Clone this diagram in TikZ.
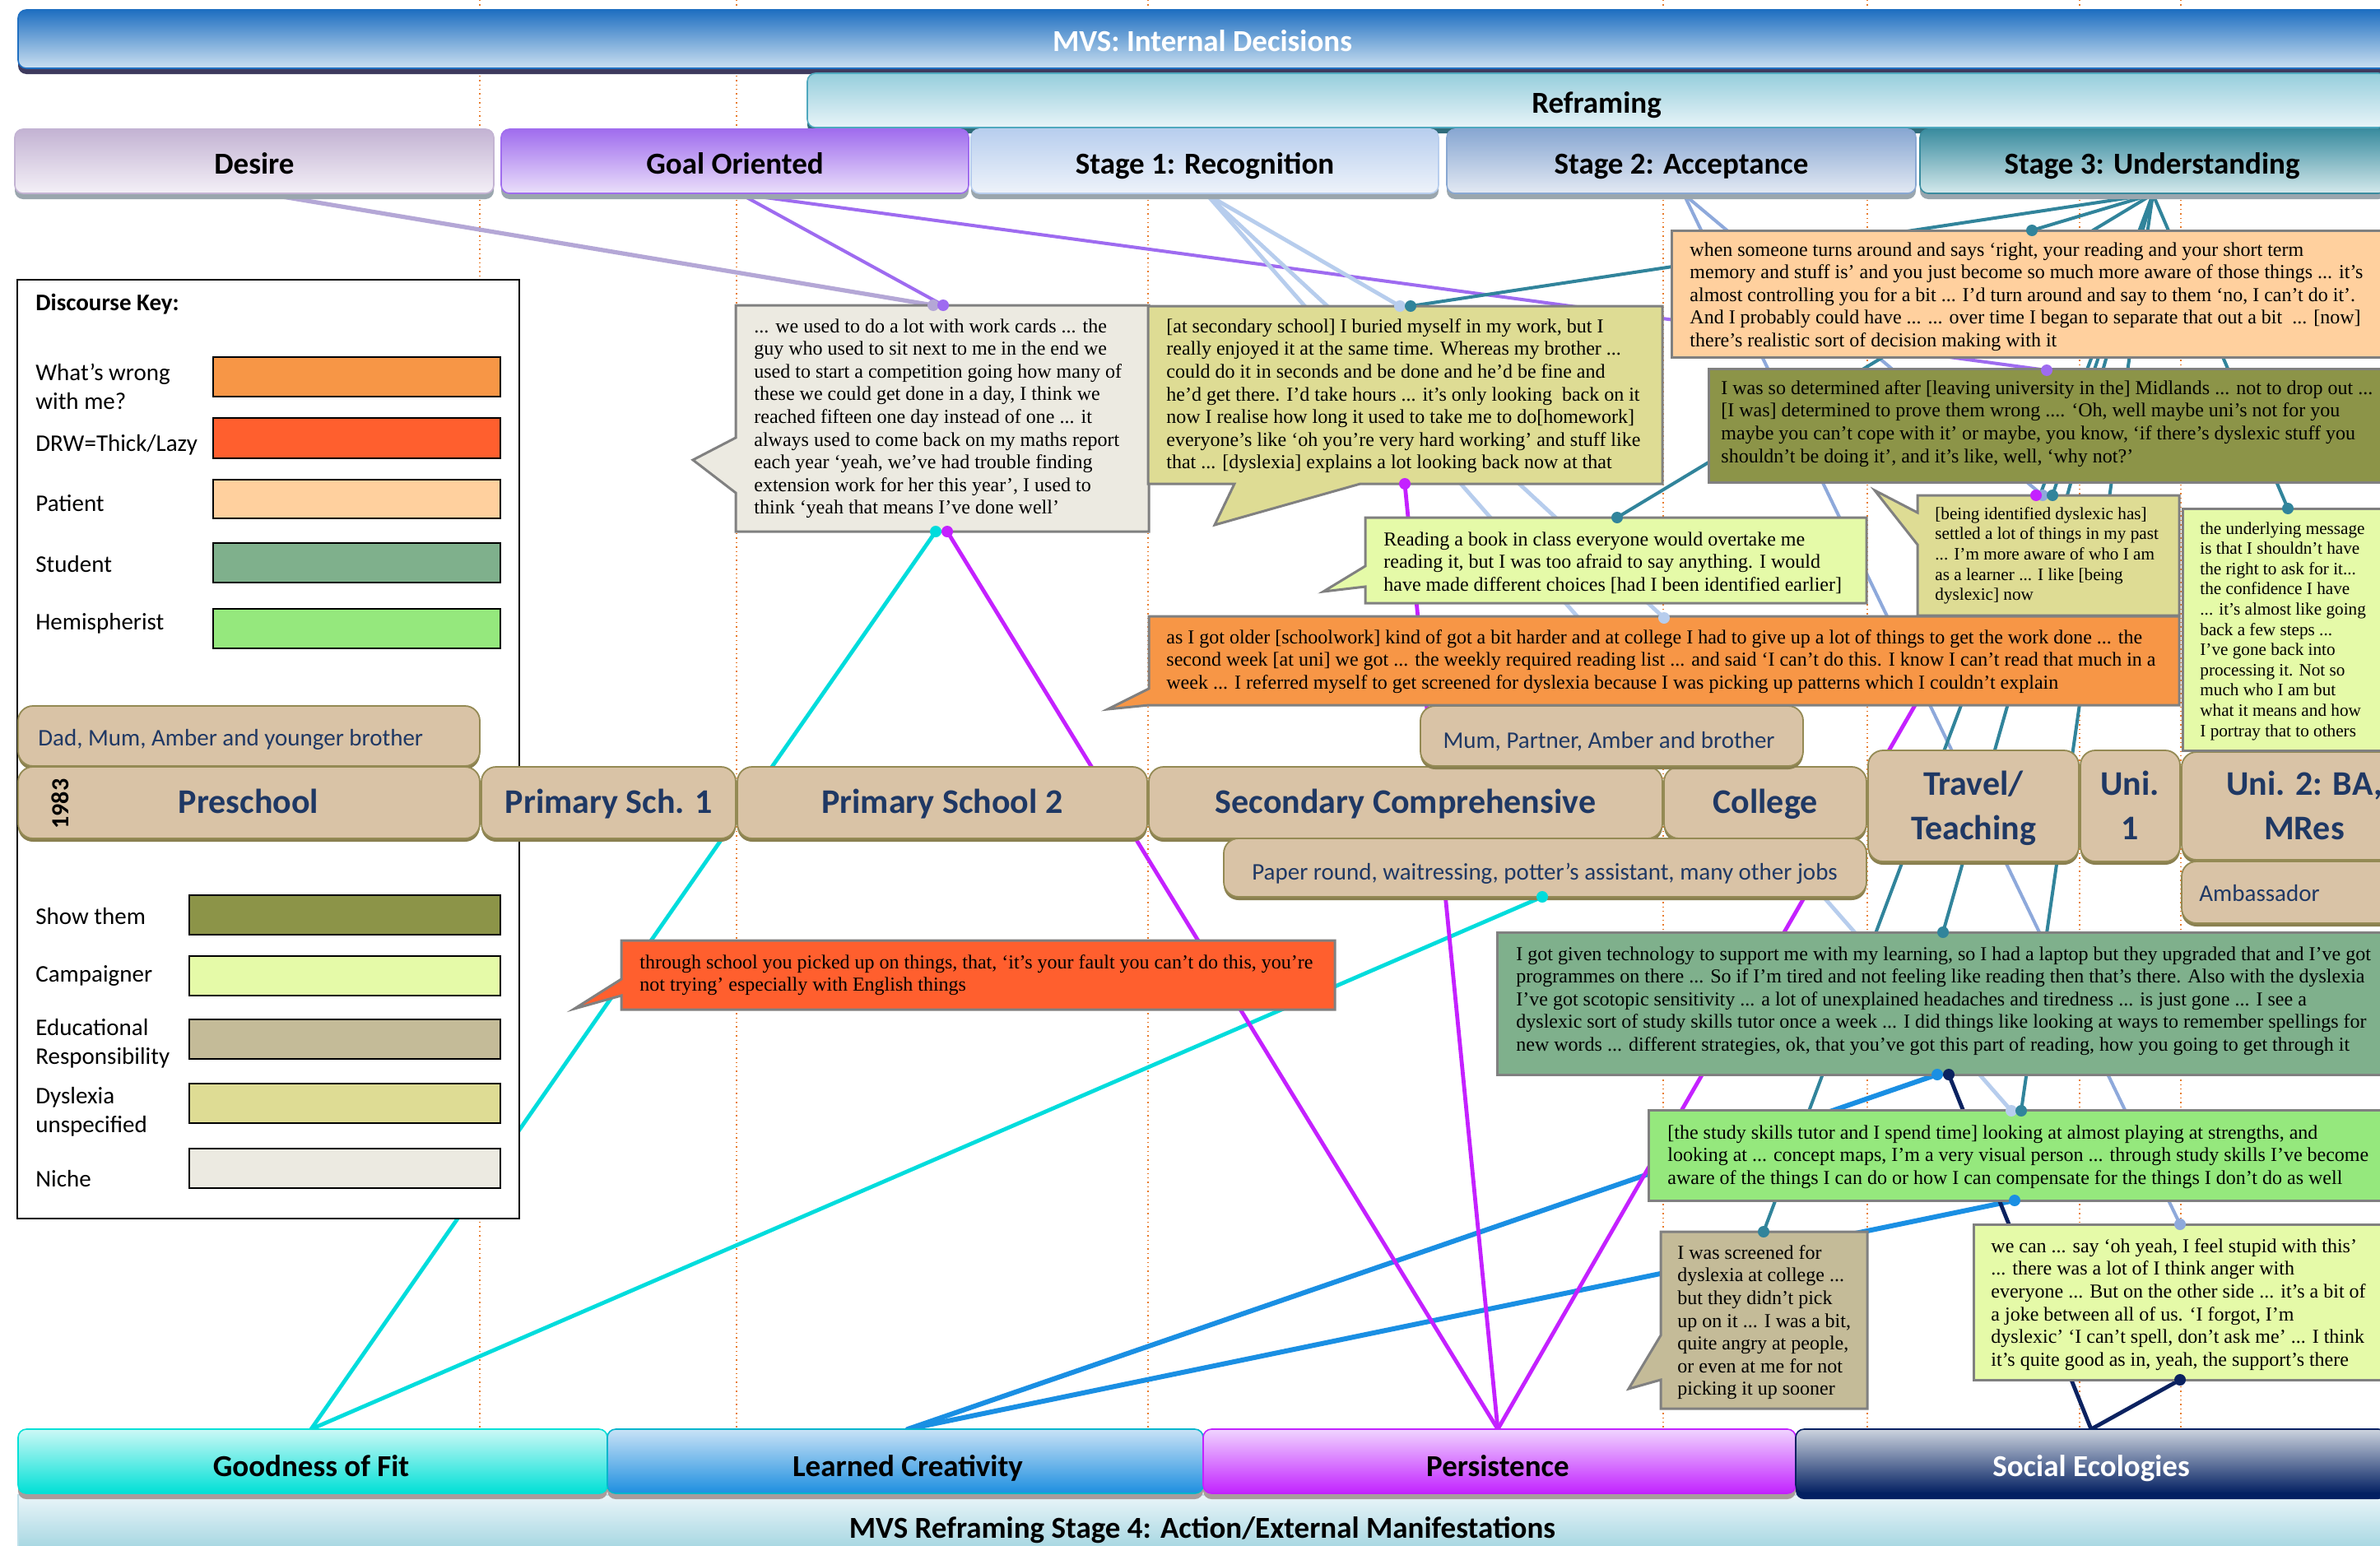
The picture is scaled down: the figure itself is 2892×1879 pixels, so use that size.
\documentclass[tikz,border=0pt]{standalone}
\usepackage{fontspec}
\setmainfont{Liberation Serif}
\newfontfamily\sansf{Carlito}
\usetikzlibrary{fit}

% connector colours
\definecolor{lnDesire}{HTML}{B4A7D6}
\definecolor{lnGoal}{HTML}{9E6BF0}
\definecolor{lnStageA}{HTML}{B7CDED}
\definecolor{lnStageB}{HTML}{8EA9DB}
\definecolor{lnStageC}{HTML}{31849B}
\definecolor{lnFit}{HTML}{00DCDC}
\definecolor{lnCreat}{HTML}{1A8FE3}
\definecolor{lnPers}{HTML}{C421FF}
\definecolor{lnSoc}{HTML}{0B2260}
% discourse key colours
\definecolor{kWrong}{HTML}{F79646}
\definecolor{kDRW}{HTML}{FF5F2E}
\definecolor{kPatient}{HTML}{FFD09E}
\definecolor{kStudent}{HTML}{7FB08C}
\definecolor{kHemi}{HTML}{95E87D}
\definecolor{kShow}{HTML}{8C9448}
\definecolor{kCamp}{HTML}{E5FAA8}
\definecolor{kEdu}{HTML}{C4BB98}
\definecolor{kDys}{HTML}{DEDC94}
\definecolor{kNiche}{HTML}{ECEAE1}
% timeline colours
\definecolor{tlFill}{HTML}{D9C3A6}
\definecolor{tlEdge}{HTML}{948A54}
\definecolor{tlShade}{HTML}{8A8050}
\definecolor{tlText}{HTML}{1F3864}
\definecolor{qEdge}{HTML}{808080}
\definecolor{guide}{HTML}{E87A2A}
% band colours
\definecolor{mvsTop}{HTML}{1F6FC1}
\definecolor{mvsBot}{HTML}{CADFF0}
\definecolor{mvsShd}{HTML}{3E3A5E}
\definecolor{refTop}{HTML}{96CEDC}
\definecolor{refBot}{HTML}{E8F4F8}
\definecolor{refEdge}{HTML}{4FA8BE}
\definecolor{refShd}{HTML}{2F6B7A}
\definecolor{desTop}{HTML}{C3B3D3}
\definecolor{desBot}{HTML}{F4F0F7}
\definecolor{goaTop}{HTML}{A06DEE}
\definecolor{goaBot}{HTML}{EADFFA}
\definecolor{saTop}{HTML}{B8CEEE}
\definecolor{saBot}{HTML}{EEF3FA}
\definecolor{sbTop}{HTML}{88A7D2}
\definecolor{sbBot}{HTML}{E3E9F3}
\definecolor{scTop}{HTML}{3A8C9F}
\definecolor{scBot}{HTML}{D4E9EC}
\definecolor{hdrShd}{HTML}{9AA6AE}
\definecolor{fitTop}{HTML}{CCF8F6}
\definecolor{fitBot}{HTML}{00E0D6}
\definecolor{crTop}{HTML}{C8E2F6}
\definecolor{crBot}{HTML}{1E8FE0}
\definecolor{crEdge}{HTML}{00B4CC}
\definecolor{peTop}{HTML}{F0D4FF}
\definecolor{peBot}{HTML}{C223FF}
\definecolor{soTop}{HTML}{CCD3DE}
\definecolor{soBot}{HTML}{032062}
\definecolor{ftShd}{HTML}{A89C9C}
\definecolor{bandTop}{HTML}{EAF5F9}
\definecolor{bandBot}{HTML}{93CEDB}
\definecolor{bandEdge}{HTML}{BFE0EA}

\tikzset{
  guideline/.style={guide, line width=0.7pt, dotted},
  conn/.style={line width=2.2pt, line cap=round},
  hdr/.style={rectangle, rounded corners=5pt, inner sep=0pt, line width=0.8pt},
  hdrlab/.style={anchor=base, inner sep=0pt, font=\sansf\bfseries\fontsize{18.5}{20}\selectfont},
  tl/.style={rectangle, rounded corners=9pt, inner sep=0pt, fill=tlFill, draw=tlEdge, line width=0.9pt},
  tllab/.style={anchor=base, inner sep=0pt, font=\sansf\bfseries\fontsize{21}{27.5}\selectfont, text=tlText},
  tlsub/.style={anchor=base, inner sep=0pt, font=\sansf\fontsize{14.5}{17}\selectfont, text=tlText},
  qbox/.style={draw=qEdge, line width=1.5pt, line join=miter},
  qtext/.style={anchor=north west, inner sep=0pt, align=left, font=\fontsize{12}{13.8}\selectfont},
  qsmall/.style={qtext, font=\fontsize{10.6}{12.3}\selectfont},
  keylab/.style={anchor=west, inner sep=0pt, align=left, font=\sansf\fontsize{14.5}{17.5}\selectfont},
  swatch/.style={rectangle, draw=black, line width=1pt, inner sep=0pt},
}

% header / footer band: options, name, x1, y1, x2, y2, shadow colour
\newcommand{\hdrbox}[7]{%
  \fill[#7, rounded corners=5pt] (#3,#4+7) rectangle (#5,#6+7);
  \node[hdr, #1, fit={(#3,#4) (#5,#6)}] (#2) {};}
% timeline block: name, x1, y1, x2, y2
\newcommand{\tlbox}[5]{%
  \fill[tlShade, rounded corners=9pt] (#2,#3+4) rectangle (#4,#5+4);
  \node[tl, fit={(#2,#3) (#4,#5)}] (#1) {};}

\begin{document}
\begin{tikzpicture}[x=0.5pt,y=-0.5pt]
\useasboundingbox (0,0) rectangle (2892,1879);
\clip (0,0) rectangle (2892,1879);
\fill[white] (0,0) rectangle (2892,1879);

% period guides
\foreach \gx in {583,895,1395,2021,2269,2527,2650}
  \draw[guideline] (\gx,0) -- (\gx,1879);

% connector origins
\coordinate (oDesire) at (325,236);
\coordinate (oGoal) at (900,236);
\coordinate (oStA) at (1466,236);
\coordinate (oStB) at (2046,236);
\coordinate (oStC) at (2616,236);
\coordinate (oFit) at (378,1737);
\coordinate (oCreat) at (1103,1737);
\coordinate (oPers) at (1820,1737);
\coordinate (oSoc) at (2541,1737);
% connector ends on the quotations
\coordinate (eNicheA) at (1134,371);
\coordinate (eNicheB) at (1146,371);
\coordinate (eNicheC) at (1137,646);
\coordinate (eNicheD) at (1151,646);
\coordinate (eShow) at (2487,450);
\coordinate (eSecA) at (1701,372);
\coordinate (eSecB) at (1714,372);
\coordinate (eSecC) at (1707,588);
\coordinate (eWrong) at (2022,751);
\coordinate (eStudyA) at (2444,1350);
\coordinate (eStudyB) at (2456,1350);
\coordinate (eStudyC) at (2448,1459);
\coordinate (eSettA) at (2482,602);
\coordinate (eSettB) at (2494,602);
\coordinate (eSettC) at (2474,602);
\coordinate (eSupA) at (2649,1488);
\coordinate (eSupB) at (2649,1677);
\coordinate (ePat) at (2469,280);
\coordinate (eRead) at (1965,629);
\coordinate (eUnder) at (2780,618);
\coordinate (eTechA) at (2361,1133);
\coordinate (eTechB) at (2354,1306);
\coordinate (eTechC) at (2368,1306);
\coordinate (eScreen) at (2143,1497);
\coordinate (eJobs) at (1874,1090);

% connectors
\draw[conn, lnDesire, line width=2.6pt] (oDesire) -- (eNicheA);
\draw[conn, lnGoal, line width=2pt] (oGoal) -- (eNicheB);
\draw[conn, lnGoal, line width=2pt] (oGoal) -- (eShow);
\foreach \e in {eSecA,eWrong,eStudyA} \draw[conn, lnStageA, line width=2.4pt] (oStA) -- (\e);
\foreach \e in {eSettA,eSupA} \draw[conn, lnStageB, line width=2pt] (oStB) -- (\e);
\foreach \e in {eSecB,ePat,eRead,eSettB,eUnder,eTechA,eStudyB,eScreen}
  \draw[conn, lnStageC, line width=2pt] (oStC) -- (\e);
\foreach \e in {eNicheC,eJobs} \draw[conn, lnFit, line width=2.4pt] (oFit) -- (\e);
\foreach \e in {eTechB,eStudyC} \draw[conn, lnCreat, line width=3pt] (oCreat) -- (\e);
\foreach \e in {eNicheD,eSecC,eSettC} \draw[conn, lnPers, line width=2.4pt] (oPers) -- (\e);
\foreach \e in {eTechC,eSupB} \draw[conn, lnSoc, line width=2.4pt] (oSoc) -- (\e);

% discourse key
\node[rectangle, draw=black, line width=1pt, fill=white, inner sep=0pt, fit={(21,340) (631,1481)}] (key) {};
\node[keylab] (kTitle) at (43,370) {\bfseries Discourse Key:};
\node[keylab] (kWrongL) at (43,470) {What’s wrong\\with me?};
\node[keylab] (kDRWL) at (43,541) {DRW=Thick/Lazy};
\node[keylab] (kPatientL) at (43,612) {Patient};
\node[keylab] (kStudentL) at (43,686) {Student};
\node[keylab] (kHemiL) at (43,758) {Hemispherist};
\node[keylab] (kShowL) at (43,1114) {Show them};
\node[keylab] (kCampL) at (43,1186) {Campaigner};
\node[keylab] (kEduL) at (43,1268) {Educational\\Responsibility};
\node[keylab] (kDysL) at (43,1351) {Dyslexia\\unspecified};
\node[keylab] (kNicheL) at (43,1433) {Niche};
\node[swatch, fill=kWrong, fit={(259,434) (608,482)}] (sWrong) {};
\node[swatch, fill=kDRW, fit={(259,508) (608,557)}] (sDRW) {};
\node[swatch, fill=kPatient, fit={(259,583) (608,630)}] (sPatient) {};
\node[swatch, fill=kStudent, fit={(259,660) (608,708)}] (sStudent) {};
\node[swatch, fill=kHemi, fit={(259,740) (608,788)}] (sHemi) {};
\node[swatch, fill=kShow, fit={(230,1088) (608,1136)}] (sShow) {};
\node[swatch, fill=kCamp, fit={(230,1162) (608,1210)}] (sCamp) {};
\node[swatch, fill=kEdu, fit={(230,1239) (608,1287)}] (sEdu) {};
\node[swatch, fill=kDys, fit={(230,1317) (608,1365)}] (sDys) {};
\node[swatch, fill=kNiche, fit={(230,1396) (608,1444)}] (sNiche) {};

% internal decision bands
\hdrbox{top color=mvsTop, bottom color=mvsBot, draw=mvsTop}{mvs}{22}{12}{2910}{83}{mvsShd}
\hdrbox{top color=refTop, bottom color=refBot, draw=refEdge}{refr}{981}{89}{2900}{155}{refShd}
\hdrbox{top color=desTop, bottom color=desBot, draw=desTop}{desire}{18}{157}{600}{235}{hdrShd}
\hdrbox{top color=goaTop, bottom color=goaBot, draw=goaTop}{goal}{609}{157}{1177}{235}{hdrShd}
\hdrbox{top color=saTop, bottom color=saBot, draw=saTop}{stA}{1180}{157}{1748}{235}{hdrShd}
\hdrbox{top color=sbTop, bottom color=sbBot, draw=sbTop}{stB}{1758}{157}{2328}{235}{hdrShd}
\hdrbox{top color=scTop, bottom color=scBot, draw=scTop}{stC}{2333}{157}{2900}{235}{hdrShd}
\node[hdrlab, text=white] (mvsL) at (1461,62) {MVS: Internal Decisions};
\node[hdrlab] (refrL) at (1940,137) {Reframing};
\node[hdrlab] (desireL) at (309,211) {Desire};
\node[hdrlab] (goalL) at (893,211) {Goal Oriented};
\node[hdrlab] (stAL) at (1464,211) {Stage 1: Recognition};
\node[hdrlab] (stBL) at (2043,211) {Stage 2: Acceptance};
\node[hdrlab] (stCL) at (2615,211) {Stage 3: Understanding};

% external manifestation bands
\node[hdr, top color=bandTop, bottom color=bandBot, draw=bandEdge, rounded corners=0pt, fit={(22,1817) (2900,1900)}] (band) {};
\hdrbox{top color=fitTop, bottom color=fitBot, draw=fitBot}{fit}{22}{1737}{738}{1815}{ftShd}
\hdrbox{top color=crTop, bottom color=crBot, draw=crEdge}{creat}{738}{1737}{1462}{1815}{ftShd}
\hdrbox{top color=peTop, bottom color=peBot, draw=peBot}{pers}{1462}{1737}{2182}{1815}{ftShd}
\hdrbox{top color=soTop, bottom color=soBot, draw=soBot}{soc}{2182}{1737}{2900}{1815}{soBot}
\node[hdrlab] (bandL) at (1461,1869) {MVS Reframing Stage 4: Action/External Manifestations};
\node[hdrlab] (fitL) at (378,1794) {Goodness of Fit};
\node[hdrlab] (creatL) at (1103,1794) {Learned Creativity};
\node[hdrlab] (persL) at (1820,1794) {Persistence};
\node[hdrlab, text=white] (socL) at (2541,1794) {Social Ecologies};

% timeline
\tlbox{famA}{22}{858}{583}{931}
\tlbox{pre}{22}{932}{583}{1019}
\tlbox{prA}{585}{932}{894}{1019}
\tlbox{prB}{896}{932}{1394}{1019}
\tlbox{sec}{1396}{932}{2020}{1019}
\tlbox{col}{2022}{932}{2268}{1019}
\tlbox{trav}{2270}{912}{2526}{1047}
\tlbox{uniA}{2528}{912}{2649}{1047}
\tlbox{uniB}{2651}{914}{2950}{1045}
\tlbox{famB}{1726}{858}{2191}{931}
\tlbox{jobs}{1487}{1019}{2268}{1090}
\tlbox{amb}{2651}{1047}{2950}{1122}
\node[tlsub, anchor=base west] (famAL) at (46,906) {Dad, Mum, Amber and younger brother};
\node[font=\sansf\bfseries\fontsize{15}{15}\selectfont, rotate=90, inner sep=0pt] (yr) at (73,977) {1983};
\node[tllab] (preL) at (302,988) {Preschool};
\node[tllab] (prAL) at (740,988) {Primary Sch. 1};
\node[tllab] (prBL) at (1145,988) {Primary School 2};
\node[tllab] (secL) at (1708,988) {Secondary Comprehensive};
\node[tllab] (colL) at (2145,988) {College};
\node[tllab] (travL) at (2398,966) {Travel/};
\node[tllab] (travM) at (2398,1020) {Teaching};
\node[tllab] (uniAL) at (2588,966) {Uni.};
\node[tllab] (uniAM) at (2588,1020) {1};
\node[tllab] (uniBL) at (2800,966) {Uni. 2: BA,};
\node[tllab] (uniBM) at (2800,1020) {MRes};
\node[tlsub] (famBL) at (1955,909) {Mum, Partner, Amber and brother};
\node[tlsub] (jobsL) at (1877,1069) {Paper round, waitressing, potter’s assistant, many other jobs};
\node[tlsub, anchor=base west] (ambL) at (2672,1095) {Ambassador};

% quotations
\draw[qbox, fill=kNiche] (894,371) -- (1396,371) -- (1396,646) -- (894,646) -- (894,599) -- (842,559) -- (894,532) -- cycle;
\node[qtext] (qNiche) at (916,387) {... we used to do a lot with work cards ... the\\guy who used to sit next to me in the end we\\used to start a competition going how many of\\these we could get done in a day, I think we\\reached fifteen one day instead of one ... it\\always used to come back on my maths report\\each year ‘yeah, we’ve had trouble finding\\extension work for her this year’, I used to\\think ‘yeah that means I’ve done well’};

\draw[qbox, fill=kDys] (1395,372) -- (2020,372) -- (2020,588) -- (1653,588) -- (1476,638) -- (1500,588) -- (1395,588) -- cycle;
\node[qtext] (qSec) at (1417,387) {{[}at secondary school] I buried myself in my work, but I\\really enjoyed it at the same time. Whereas my brother ...\\could do it in seconds and be done and he’d be fine and\\he’d get there. I’d take hours ... it’s only looking\ \ back on it\\now I realise how long it used to take me to do[homework]\\everyone’s like ‘oh you’re very hard working’ and stuff like\\that ... [dyslexia] explains a lot looking back now at that};

\draw[qbox, fill=kPatient] (2031,280) rectangle (2910,434);
\node[qtext] (qPat) at (2053,294) {when someone turns around and says ‘right, your reading and your short term\\memory and stuff is’ and you just become so much more aware of those things ... it’s\\almost controlling you for a bit ... I’d turn around and say to them ‘no, I can’t do it’.\\And I probably could have ... ... over time I began to separate that out a bit\ \ ... [now]\\there’s realistic sort of decision making with it};

\draw[qbox, fill=kShow] (2076,448) rectangle (2910,586);
\node[qtext] (qShow) at (2091,462) {I was so determined after [leaving university in the] Midlands ... not to drop out ...\\{[}I was] determined to prove them wrong .... ‘Oh, well maybe uni’s not for you\\maybe you can’t cope with it’ or maybe, you know, ‘if there’s dyslexic stuff you\\shouldn’t be doing it’, and it’s like, well, ‘why not?’};

\draw[qbox, fill=kDys] (2330,602) -- (2648,602) -- (2648,748) -- (2330,748) -- (2330,662) -- (2278,596) -- (2330,623) -- cycle;
\node[qsmall] (qSett) at (2351,616) {{[}being identified dyslexic has]\\settled a lot of things in my past\\... I’m more aware of who I am\\as a learner ... I like [being\\dyslexic] now};

\draw[qbox, fill=kCamp] (2652,618) rectangle (2910,912);
\node[qsmall] (qUnder) at (2673,634) {the underlying message\\is that I shouldn’t have\\the right to ask for it...\\the confidence I have\\... it’s almost like going\\back a few steps ...\\I’ve gone back into\\processing it. Not so\\much who I am but\\what it means and how\\I portray that to others};

\draw[qbox, fill=kCamp] (1659,629) -- (2268,629) -- (2268,733) -- (1659,733) -- (1659,713) -- (1608,719) -- (1659,688) -- cycle;
\node[qtext] (qRead) at (1681,646) {Reading a book in class everyone would overtake me\\reading it, but I was too afraid to say anything. I would\\have made different choices [had I been identified earlier]};

\draw[qbox, fill=kWrong] (1396,749) -- (2648,749) -- (2648,857) -- (1396,857) -- (1346,862) -- (1396,837) -- cycle;
\node[qtext] (qWrong) at (1417,765) {as I got older [schoolwork] kind of got a bit harder and at college I had to give up a lot of things to get the work done ... the\\second week [at uni] we got ... the weekly required reading list ... and said ‘I can’t do this. I know I can’t read that much in a\\week ... I referred myself to get screened for dyslexia because I was picking up patterns which I couldn’t explain};

\draw[qbox, fill=kDRW] (755,1143) -- (1622,1143) -- (1622,1227) -- (755,1227) -- (755,1210) -- (698,1226) -- (755,1190) -- cycle;
\node[qtext] (qDRW) at (777,1160) {through school you picked up on things, that, ‘it’s your fault you can’t do this, you’re\\not trying’ especially with English things};

\draw[qbox, fill=kStudent] (1819,1133) rectangle (2910,1306);
\node[qtext] (qTech) at (1842,1150) {I got given technology to support me with my learning, so I had a laptop but they upgraded that and I’ve got\\programmes on there ... So if I’m tired and not feeling like reading then that’s there. Also with the dyslexia\\I’ve got scotopic sensitivity ... a lot of unexplained headaches and tiredness ... is just gone ... I see a\\dyslexic sort of study skills tutor once a week ... I did things like looking at ways to remember spellings for\\new words ... different strategies, ok, that you’ve got this part of reading, how you going to get through it};

\draw[qbox, fill=kHemi] (2003,1349) rectangle (2910,1459);
\node[qtext] (qStudy) at (2026,1367) {{[}the study skills tutor and I spend time] looking at almost playing at strengths, and\\looking at ... concept maps, I’m a very visual person ... through study skills I’ve become\\aware of the things I can do or how I can compensate for the things I don’t do as well};

\draw[qbox, fill=kEdu] (2018,1497) -- (2269,1497) -- (2269,1712) -- (2018,1712) -- (2018,1677) -- (1979,1688) -- (2018,1623) -- cycle;
\node[qtext] (qScreen) at (2038,1513) {I was screened for\\dyslexia at college ...\\but they didn’t pick\\up on it ... I was a bit,\\quite angry at people,\\or even at me for not\\picking it up sooner};

\draw[qbox, fill=kCamp] (2398,1488) rectangle (2910,1677);
\node[qtext] (qSup) at (2419,1505) {we can ... say ‘oh yeah, I feel stupid with this’\\... there was a lot of I think anger with\\everyone ... But on the other side ... it’s a bit of\\a joke between all of us. ‘I forgot, I’m\\dyslexic’ ‘I can’t spell, don’t ask me’ ... I think\\it’s quite good as in, yeah, the support’s there};

% connector end dots
\foreach \p/\c in {eNicheA/lnDesire, eNicheB/lnGoal, eShow/lnGoal,
    eSecA/lnStageA, eWrong/lnStageA, eStudyA/lnStageA,
    eSettA/lnStageB, eSupA/lnStageB,
    eSecB/lnStageC, ePat/lnStageC, eRead/lnStageC, eSettB/lnStageC, eUnder/lnStageC,
    eTechA/lnStageC, eStudyB/lnStageC, eScreen/lnStageC,
    eNicheC/lnFit, eJobs/lnFit, eTechB/lnCreat, eStudyC/lnCreat,
    eNicheD/lnPers, eSecC/lnPers, eSettC/lnPers, eTechC/lnSoc, eSupB/lnSoc}
  \fill[\c] (\p) circle[radius=3.5pt];
\end{tikzpicture}
\end{document}
